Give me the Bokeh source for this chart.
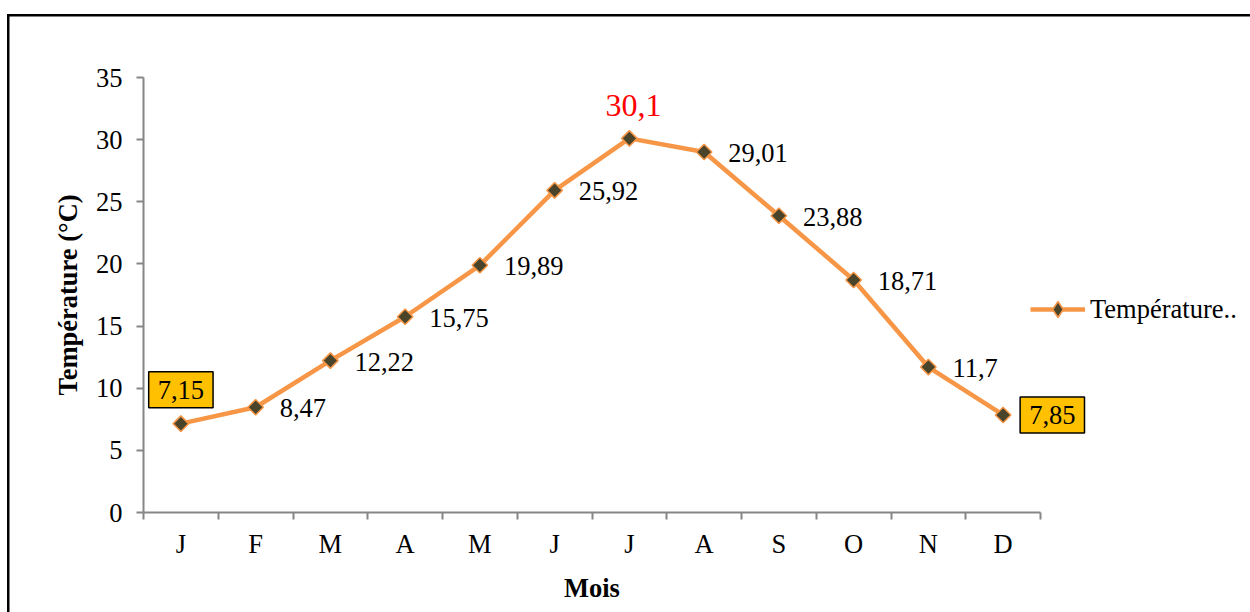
from bokeh.plotting import figure
from bokeh.models import Range1d, FixedTicker, Legend, LegendItem, ColumnDataSource, Title
from bokeh.core.properties import value
from bokeh.embed import file_html
from bokeh.resources import INLINE
import math

# Monthly mean temperature (°C)
months = ["J", "F", "M", "A", "M", "J", "J", "A", "S", "O", "N", "D"]
temperature = [7.15, 8.47, 12.22, 15.75, 19.89, 25.92, 30.1, 29.01, 23.88, 18.71, 11.7, 7.85]
y_ticks = [0, 5, 10, 15, 20, 25, 30, 35]

SERIF = "Liberation Serif"
FONT = "26.5px"
AXIS_GREY = "#868686"
LINE_ORANGE = "#F79646"
MARKER_FILL = "#4A452A"
BOX_YELLOW = "#FFC000"

# plot geometry: the month axis spans PLOT_W pixels, the frame runs on to the
# right edge so that the legend and the last label have room
LEFT, TOP, BOTTOM_PAD = 143, 77, 100
PLOT_W, PLOT_H, WIDTH, HEIGHT = 897, 435, 1250, 612
n = len(months)
x_end = n + (WIDTH - LEFT - PLOT_W) / (PLOT_W / n)

x = [i + 0.5 for i in range(n)]
labels = [f"{v:g}".replace(".", ",") for v in temperature]

p = figure(width=WIDTH, height=HEIGHT, output_backend="svg", toolbar_location=None,
           x_range=Range1d(0, x_end), y_range=Range1d(0, max(y_ticks)),
           min_border_left=LEFT, min_border_right=0,
           min_border_top=TOP, min_border_bottom=BOTTOM_PAD,
           background_fill_color="white", border_fill_color=None)
p.frame_width = WIDTH - LEFT
p.frame_height = PLOT_H
p.outline_line_color = None
p.grid.visible = False

# page frame (left and top rules) painted behind the transparent canvas border
p.styles = {
    "background": "linear-gradient(#000,#000) 7px 14px / 2.5px 100% no-repeat, "
                  "linear-gradient(#000,#000) 7px 14px / 100% 2.5px no-repeat, #fff"
}

# x axis: month names centred, separators between months
xa = p.xaxis[0]
xa.bounds = (0, n)
xa.ticker = FixedTicker(ticks=x, minor_ticks=list(range(n + 1)))
xa.major_label_overrides = {xi: m for xi, m in zip(x, months)}
xa.major_tick_out = 0
xa.major_tick_in = 0
xa.minor_tick_out = 7
xa.minor_tick_in = 0
xa.minor_tick_line_color = AXIS_GREY
xa.minor_tick_line_width = 2
xa.axis_line_color = AXIS_GREY
xa.axis_line_width = 2
xa.major_label_text_font = SERIF
xa.major_label_text_font_size = FONT
xa.major_label_text_color = "black"
xa.major_label_standoff = 9

# x axis title, centred under the month axis rather than the whole frame
mois_w = 56
p.add_layout(Title(text="Mois", align="left", offset=PLOT_W / 2 - mois_w / 2,
                   text_font=SERIF, text_font_size=FONT, text_font_style="bold",
                   text_color="black", standoff=18), "below")

ya = p.yaxis[0]
ya.ticker = FixedTicker(ticks=y_ticks, minor_ticks=[])
ya.major_tick_out = 7
ya.major_tick_in = 0
ya.major_tick_line_color = AXIS_GREY
ya.major_tick_line_width = 2
ya.axis_line_color = AXIS_GREY
ya.axis_line_width = 2
ya.major_label_text_font = SERIF
ya.major_label_text_font_size = FONT
ya.major_label_text_color = "black"
ya.major_label_standoff = 14
ya.axis_label = "Température (°C)"
ya.axis_label_text_font = SERIF
ya.axis_label_text_font_style = "bold"
ya.axis_label_text_font_size = FONT
ya.axis_label_text_color = "black"
ya.axis_label_standoff = 10

src = ColumnDataSource(dict(x=x, y=temperature, label=labels))
line = p.line("x", "y", source=src, line_color=LINE_ORANGE, line_width=4.5)
# diamond swatch for the legend; it sits hidden beneath the plotted markers
swatch = p.scatter("x", "y", source=src, marker="diamond", size=10,
                   fill_color=MARKER_FILL, line_color=LINE_ORANGE, line_width=1.5)
p.scatter("x", "y", source=src, marker="square", size=11, angle=math.pi / 4,
          fill_color=MARKER_FILL, line_color=LINE_ORANGE, line_width=1.5)

# data labels
peak = temperature.index(max(temperature))
last = n - 1
plain = [i for i in range(n) if i not in (0, peak, last)]

def subset(idx):
    return ColumnDataSource(dict(x=[x[i] for i in idx],
                                 y=[temperature[i] for i in idx],
                                 label=[labels[i] for i in idx]))

p.text("x", "y", text="label", source=subset(plain), x_offset=24, y_offset=1,
       text_font=value(SERIF), text_font_size=FONT, text_color="black",
       text_align="left", text_baseline="middle")
p.text("x", "y", text="label", source=subset([peak]), x_offset=4, y_offset=-33,
       text_font=value(SERIF), text_font_size="32px", text_color="#FF0000",
       text_align="center", text_baseline="middle")
p.text("x", "y", text="label", source=subset([0]), y_offset=-34,
       text_font=value(SERIF), text_font_size=FONT, text_color="black",
       text_align="center", text_baseline="middle",
       background_fill_color=BOX_YELLOW, border_line_color="black",
       border_line_width=1.5, padding=9)
p.text("x", "y", text="label", source=subset([last]), x_offset=17,
       text_font=value(SERIF), text_font_size=FONT, text_color="black",
       text_align="left", text_baseline="middle",
       background_fill_color=BOX_YELLOW, border_line_color="black",
       border_line_width=1.5, padding=9)

legend = Legend(items=[LegendItem(label="Température..", renderers=[line, swatch])],
                location=(887, 183), orientation="vertical",
                glyph_width=55, glyph_height=40, label_standoff=5,
                padding=0, margin=0, border_line_color=None,
                background_fill_alpha=0,
                label_text_font=SERIF, label_text_font_size=FONT,
                label_text_color="black")
p.add_layout(legend)

open("out.html", "w").write(file_html(p, INLINE))
